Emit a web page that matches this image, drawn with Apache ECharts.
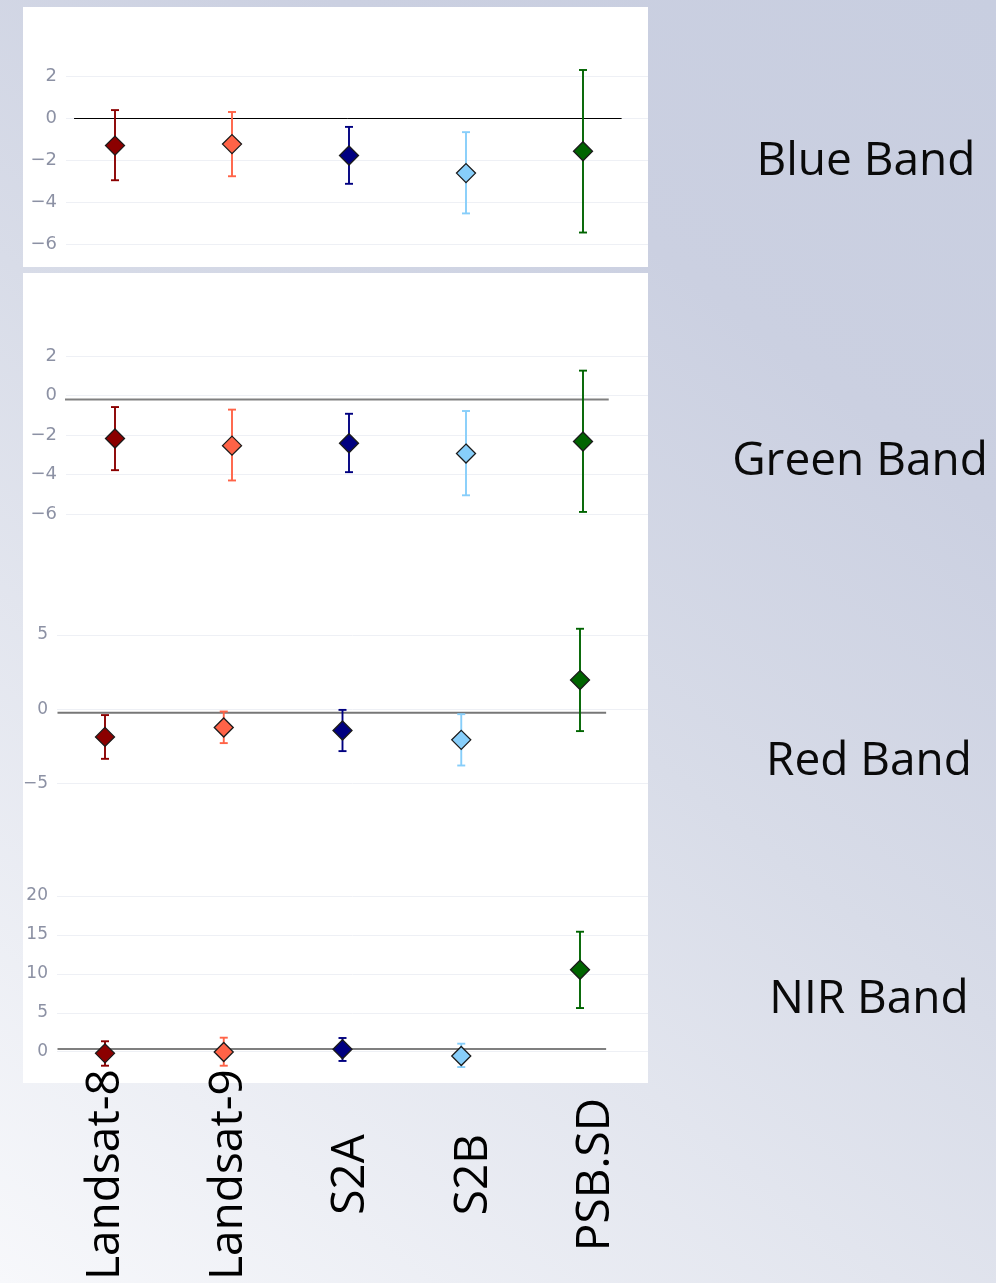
<!DOCTYPE html>
<html>
<head>
<meta charset="utf-8">
<script src="https://cdn.jsdelivr.net/npm/echarts@6/dist/echarts.min.js"></script>
<style>html,body{margin:0;padding:0;background:#fff;}#c{width:996px;height:1283px;}</style>
</head>
<body>
<div id="c"></div>
<script>
// ---------- data ----------
const categories = ['Landsat-8', 'Landsat-9', 'S2A', 'S2B', 'PSB.SD'];
const bandNames = ['Blue Band', 'Green Band', 'Red Band', 'NIR Band'];

const blueMean  = [-1.29, -1.22, -1.76, -2.60, -1.56];
const blueHigh  = [ 0.40,  0.31, -0.40, -0.65,  2.31];
const blueLow   = [-2.94, -2.75, -3.11, -4.52, -5.43];

const greenMean = [-2.17, -2.53, -2.41, -2.93, -2.32];
const greenHigh = [-0.58, -0.71, -0.92, -0.78,  1.26];
const greenLow  = [-3.77, -4.29, -3.87, -5.04, -5.88];

const redMean   = [-1.87, -1.24, -1.44, -2.07,  1.96];
const redHigh   = [-0.40, -0.16, -0.05, -0.34,  5.42];
const redLow    = [-3.35, -2.29, -2.83, -3.80, -1.48];

const nirMean   = [-0.21, -0.04,  0.31, -0.55, 10.53];
const nirHigh   = [ 1.34,  1.80,  1.76,  1.03, 15.41];
const nirLow    = [-1.80, -1.80, -1.19, -1.97,  5.61];

const blueTicks  = [-6, -4, -2, 0, 2];
const greenTicks = [-6, -4, -2, 0, 2];
const redTicks   = [-5, 0, 5];
const nirTicks   = [0, 5, 10, 15, 20];

// reference (zero) line level as drawn in each panel
const zeroLevel = [0, -0.2, -0.25, 0.35];

// ---------- styles / layout ----------
const markerColors = ['#8b0000', '#ff6347', '#000080', '#87cefa', '#006400'];
const W = 996, H = 1283;
const panelRight = 648;

const panels = [
  {mean: blueMean,  high: blueHigh,  low: blueLow,  ticks: blueTicks,  top: 76.5, bottom: 244.5, left: 66, x0: 115, dx: 117,    span: [-0.35, 4.33], zc: '#000000', zw: 1,   fs: 18},
  {mean: greenMean, high: greenHigh, low: greenLow, ticks: greenTicks, top: 356,  bottom: 514.3, left: 66, x0: 115, dx: 117,    span: [-0.45, 4.22], zc: '#808080', zw: 2,   fs: 18},
  {mean: redMean,   high: redHigh,   low: redLow,   ticks: redTicks,   top: 635,  bottom: 783.3, left: 57, x0: 105, dx: 118.75, span: [-0.40, 4.22], zc: '#777777', zw: 2,   fs: 17},
  {mean: nirMean,   high: nirHigh,   low: nirLow,   ticks: nirTicks,   top: 896,  bottom: 1051.7, left: 57, x0: 105, dx: 118.75, span: [-0.40, 4.22], zc: '#555555', zw: 1.5, fs: 17}
];
const bandLabelPos = [[866, 162], [860, 462], [869, 762], [869, 1000]];

const fmt = v => v < 0 ? '\u2212' + Math.abs(v) : String(v);

const grids = [], xAxes = [], yAxes = [], series = [];
panels.forEach((p, k) => {
  grids.push({left: p.left, width: panelRight - p.left, top: p.top, height: p.bottom - p.top, containLabel: false});
  xAxes.push({type: 'value', gridIndex: k, show: false,
    min: (p.left - p.x0) / p.dx, max: (panelRight - p.x0) / p.dx});
  yAxes.push({type: 'value', gridIndex: k,
    min: p.ticks[0], max: p.ticks[p.ticks.length - 1], interval: p.ticks[1] - p.ticks[0],
    axisLine: {show: false}, axisTick: {show: false},
    splitLine: {show: true, lineStyle: {color: '#eef0f5', width: 1}},
    axisLabel: {color: '#8c91a4', fontSize: p.fs, fontFamily: 'DejaVu Sans', margin: 9, formatter: fmt}
  });
  // zero reference line
  series.push({
    type: 'line', xAxisIndex: k, yAxisIndex: k, clip: false, z: 1, silent: true,
    symbol: 'none', lineStyle: {color: p.zc, width: p.zw},
    data: [[p.span[0], zeroLevel[k]], [p.span[1], zeroLevel[k]]]
  });
  const errData = categories.map((c, i) => [i, p.low[i], p.high[i]]);
  series.push({
    type: 'custom', xAxisIndex: k, yAxisIndex: k, clip: false, z: 2, silent: true,
    data: errData, encode: {x: 0, y: [1, 2]},
    renderItem: (params, api) => {
      const x = api.value(0);
      const a = api.coord([x, api.value(1)]);
      const b = api.coord([x, api.value(2)]);
      const hw = 4;
      const st = {stroke: markerColors[params.dataIndex], lineWidth: 1.9};
      return {type: 'group', children: [
        {type: 'line', shape: {x1: a[0], y1: a[1], x2: b[0], y2: b[1]}, style: st},
        {type: 'line', shape: {x1: a[0] - hw, y1: a[1], x2: a[0] + hw, y2: a[1]}, style: st},
        {type: 'line', shape: {x1: b[0] - hw, y1: b[1], x2: b[0] + hw, y2: b[1]}, style: st}
      ]};
    }
  });
  series.push({
    type: 'scatter', xAxisIndex: k, yAxisIndex: k, clip: false, z: 3, silent: true,
    symbol: 'diamond', symbolSize: 19,
    data: categories.map((c, i) => ({value: [i, p.mean[i]], itemStyle: {color: markerColors[i]}})),
    itemStyle: {borderColor: '#1a1a1a', borderWidth: 1.3, opacity: 1}
  });
});

// category label axis below the panels
grids.push({left: 44.75, width: 612.5, top: 1000, height: 90});
xAxes.push({type: 'category', gridIndex: 4, data: categories,
  axisLine: {show: false}, axisTick: {show: false}, splitLine: {show: false},
  axisLabel: {interval: 0, rotate: 90, align: 'center', verticalAlign: 'middle', margin: 95,
    fontSize: 46, fontFamily: 'Open Sans', color: '#000000'}});
yAxes.push({type: 'value', gridIndex: 4, show: false});

const graphics = [
  {type: 'rect', z: -20, silent: true, shape: {x: 0, y: 0, width: W, height: H},
   style: {fill: new echarts.graphic.LinearGradient(0, 1, 1, 0, [
     {offset: 0, color: '#f7f8fb'}, {offset: 0.5, color: '#d8dce8'},
     {offset: 0.75, color: '#cbd0e1'}, {offset: 1, color: '#c8cee0'}])}},
  {type: 'rect', z: -10, silent: true, shape: {x: 23, y: 7, width: 625, height: 260}, style: {fill: '#ffffff'}},
  {type: 'rect', z: -10, silent: true, shape: {x: 23, y: 273, width: 625, height: 810}, style: {fill: '#ffffff'}}
];
bandNames.forEach((name, k) => {
  graphics.push({type: 'text', z: 5, silent: true, x: bandLabelPos[k][0], y: bandLabelPos[k][1],
    style: {text: name, fontSize: 46, fontFamily: 'Open Sans', fill: '#0a0a0a', align: 'center', verticalAlign: 'middle'}});
});

const chart = echarts.init(document.getElementById('c'), null, {renderer: 'canvas'});
chart.setOption({
  animation: false,
  backgroundColor: 'transparent',
  grid: grids, xAxis: xAxes, yAxis: yAxes, series: series,
  graphic: graphics
});
</script>
</body>
</html>
